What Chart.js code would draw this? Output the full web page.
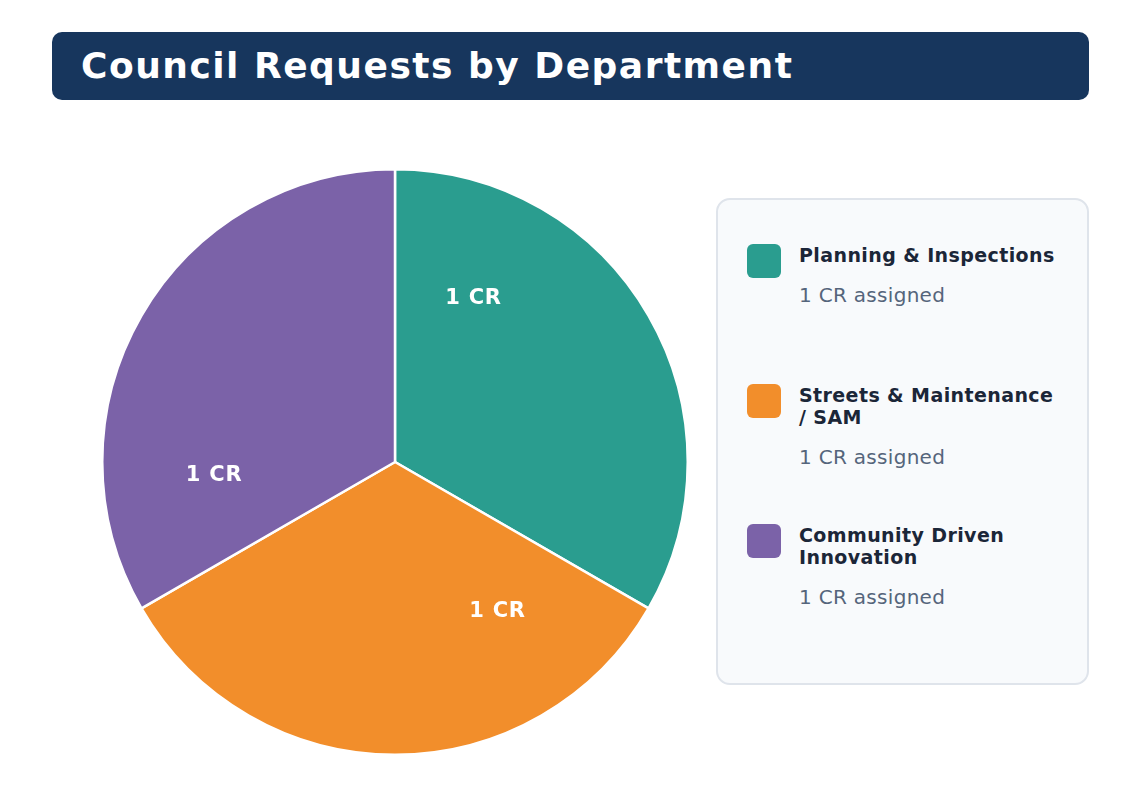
<!DOCTYPE html>
<html>
<head>
<meta charset="utf-8">
<script src="https://cdn.jsdelivr.net/npm/chart.js@4.4.1/dist/chart.umd.min.js"></script>
<style>
  body { margin: 0; background: #ffffff; font-family: "DejaVu Sans", sans-serif; }
  #page { position: relative; width: 1140px; height: 808px; overflow: hidden; }
  #banner {
    position: absolute; left: 52px; top: 32px; width: 1037px; height: 68px;
    background: #17365d; border-radius: 10px;
  }
  #banner h1 {
    margin: 0; position: absolute; left: 29px; top: 12px;
    color: #ffffff; font-size: 36px; font-weight: bold; line-height: 44px;
    letter-spacing: 1.5px;
  }
  #pieWrap { position: absolute; left: 101px; top: 168px; width: 588px; height: 588px; }
  #legendBox {
    position: absolute; left: 716px; top: 198px; width: 369px; height: 483px;
    background: #f8fafc; border: 2px solid #dfe4eb; border-radius: 14px;
  }
  .item { position: absolute; left: 29px; width: 330px; }
  .swatch { position: absolute; left: 0; top: 0; width: 34px; height: 34px; border-radius: 6px; }
  .name { margin-left: 52px; font-size: 19px; font-weight: bold; line-height: 22px; color: #1b2638; width: 262px; letter-spacing: 0.4px; }
  .sub { margin-left: 52px; margin-top: 17px; font-size: 20px; line-height: 24px; color: #55657b; letter-spacing: 0.3px; }
</style>
</head>
<body>
<div id="page">
  <div id="banner"><h1>Council Requests by Department</h1></div>
  <div id="pieWrap"><canvas id="pie"></canvas></div>
  <div id="legendBox"></div>
</div>
<script>
const departments = ['Planning & Inspections', 'Streets & Maintenance / SAM', 'Community Driven Innovation'];
const requestCounts = [1, 1, 1];
const sliceColors = ['#2a9d8f', '#f28e2b', '#7b62a8'];

// legend panel built from the same arrays
const legendBox = document.getElementById('legendBox');
departments.forEach((name, i) => {
  const item = document.createElement('div');
  item.className = 'item';
  item.style.top = (44 + i * 140) + 'px';
  item.innerHTML =
    '<div class="swatch" style="background:' + sliceColors[i] + '"></div>' +
    '<div class="name"></div><div class="sub"></div>';
  item.querySelector('.name').textContent = name;
  item.querySelector('.sub').textContent = requestCounts[i] + ' CR assigned';
  legendBox.appendChild(item);
});

// white "n CR" labels inside the slices
const sliceLabels = {
  id: 'sliceLabels',
  afterDatasetsDraw(chart) {
    const ctx = chart.ctx;
    const meta = chart.getDatasetMeta(0);
    ctx.save();
    ctx.fillStyle = '#ffffff';
    ctx.font = 'bold 21px "DejaVu Sans"';
    ctx.letterSpacing = '0.8px';
    ctx.textAlign = 'center';
    ctx.textBaseline = 'middle';
    meta.data.forEach((arc, i) => {
      const mid = (arc.startAngle + arc.endAngle) / 2 - 0.6;
      const r = arc.outerRadius * 0.62;
      const x = arc.x + Math.cos(mid) * r;
      const y = arc.y + Math.sin(mid) * r;
      ctx.fillText(requestCounts[i] + ' CR', x, y);
    });
    ctx.restore();
  }
};

new Chart(document.getElementById('pie').getContext('2d'), {
  type: 'pie',
  data: {
    labels: departments,
    datasets: [{
      data: requestCounts,
      backgroundColor: sliceColors,
      borderColor: '#ffffff',
      borderWidth: 2.5,
    }]
  },
  options: {
    responsive: true,
    maintainAspectRatio: false,
    animation: false,
    layout: { padding: 0 },
    plugins: {
      legend: { display: false },
      tooltip: { enabled: false }
    }
  },
  plugins: [sliceLabels]
});
</script>
</body>
</html>
